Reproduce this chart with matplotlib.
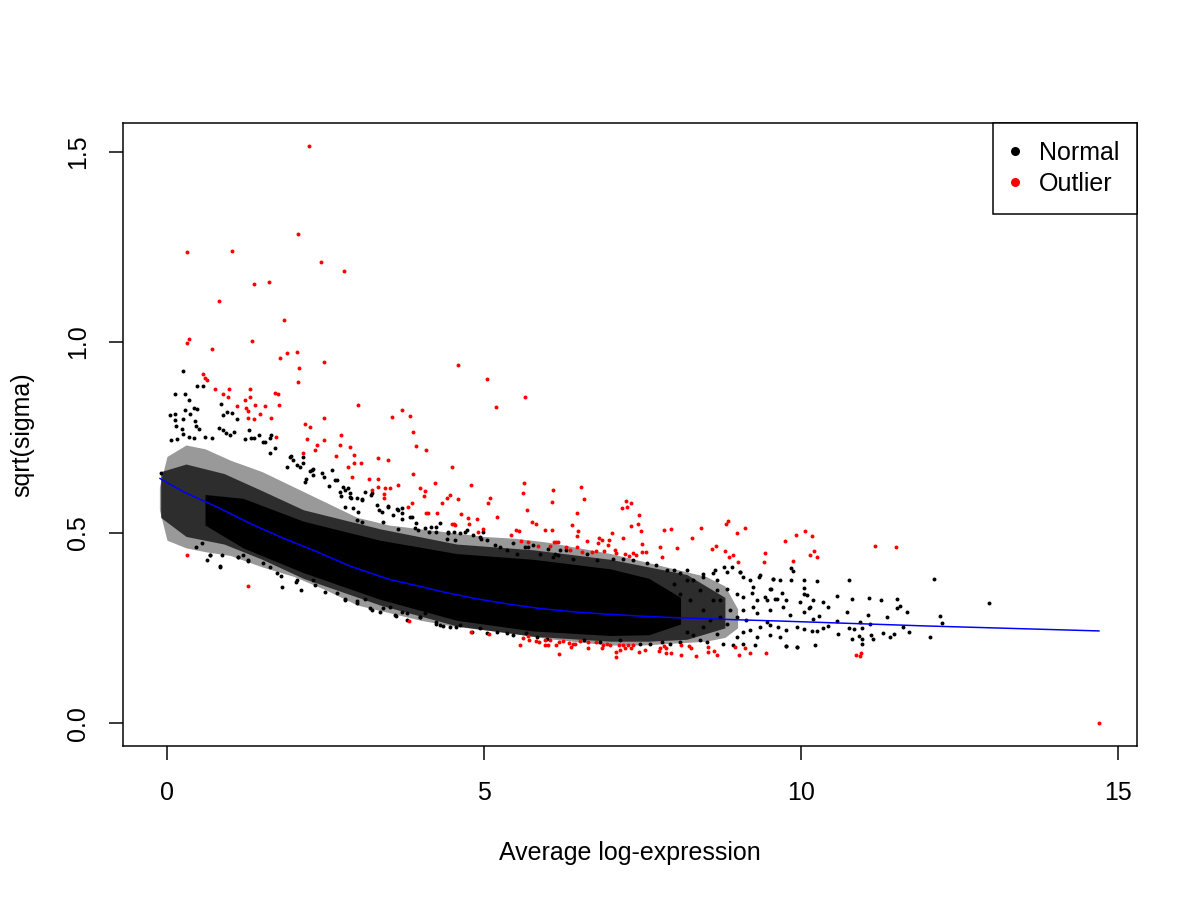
import matplotlib
matplotlib.use('Agg')
import matplotlib.pyplot as plt
from matplotlib.lines import Line2D
import numpy as np

# trend line (blue)
fitX = [-0.11, 0.26, 0.78, 1.31, 1.84, 2.36, 2.89, 3.51, 4.04, 4.31, 4.83, 5.36, 5.88, 6.41, 6.935, 7.46, 7.99, 8.51, 9.04, 9.66, 11.98, 14.70]
fitY = [0.642, 0.607, 0.568, 0.524, 0.485, 0.450, 0.412, 0.377, 0.357, 0.346, 0.328, 0.313, 0.301, 0.292, 0.286, 0.281, 0.277, 0.274, 0.271, 0.268, 0.255, 0.242]

# envelopes of the dense cloud of normal genes (outer, middle, solid core)
haloX = [-0.12, 0.0, 0.3, 0.6, 1.0, 1.5, 2.0, 2.5, 3.0, 3.5, 4.0, 4.5, 5.0, 5.5, 6.0, 6.5, 7.0, 7.5, 8.0, 8.5, 8.8, 9.0]
haloHi = [0.62, 0.70, 0.73, 0.72, 0.69, 0.66, 0.62, 0.58, 0.54, 0.52, 0.51, 0.50, 0.49, 0.485, 0.475, 0.46, 0.445, 0.425, 0.405, 0.385, 0.36, 0.30]
haloLo = [0.56, 0.48, 0.46, 0.45, 0.44, 0.41, 0.385, 0.35, 0.31, 0.29, 0.27, 0.255, 0.245, 0.235, 0.222, 0.213, 0.205, 0.205, 0.21, 0.215, 0.225, 0.25]

midX = [-0.1, 0.3, 0.9, 1.5, 2.15, 3.36, 4.57, 5.77, 6.99, 7.6, 8.2, 8.8]
midHi = [0.66, 0.68, 0.655, 0.61, 0.56, 0.51, 0.47, 0.455, 0.43, 0.41, 0.39, 0.33]
midLo = [0.54, 0.49, 0.47, 0.43, 0.38, 0.31, 0.255, 0.228, 0.215, 0.215, 0.22, 0.25]

coreX = [0.6, 1.2, 2.15, 3.36, 4.57, 5.77, 6.99, 7.6, 8.1]
coreHi = [0.60, 0.59, 0.53, 0.48, 0.445, 0.43, 0.405, 0.38, 0.33]
coreLo = [0.52, 0.46, 0.395, 0.325, 0.27, 0.242, 0.23, 0.232, 0.26]

# scattered normal genes outside the dense cloud
normalX = [0.25, 0.47, 0.13, 0.28, 0.35, 0.57, 0.85, 0.42, 0.48, 0.28, 0.05, 0.13, 0.13, 0.25, 0.36, 0.14, 0.44, 0.46, 0.24, 0.51, 0.25, 0.34, 0.43, 0.06, 0.16, 0.60, 0.71,
           0.89, 0.95, 1.03, 1.11, 0.825, 0.89, 0.935, 1.0, 1.06, 1.30, 1.235, 1.32, 1.37, 1.45, 1.545, 1.62, 1.64,
           1.52, 1.70, 1.62, 1.94, 1.99, 2.15, 1.89, 2.05, 2.28, 2.31, 2.20, 2.47, 2.60, 2.68, 2.78, 2.89, -0.094,
           0.547, 0.678, 0.626, 0.836, 1.125, 1.204, 1.283, 1.52, 1.73, 1.81, 2.05, 2.12, 2.31, 2.49, 2.68,
           0.463, 0.673, 0.873, 0.841, 1.12, 1.28, 1.62, 1.80, 2.03, 2.33, 2.80, 2.99, 3.24, 3.41, 3.61, 3.78, 3.99, 4.25, 4.35, 4.56,
           1.96, 2.09, 2.15, 2.25, 2.31, 2.45, 2.17, 2.56, 2.65, 2.80, 2.75, 2.88, 2.99, 3.08, 3.22, 3.35, 3.49, 3.62, 3.70, 3.87, 3.93, 4.13, 4.25, 4.43,
           2.73, 2.86, 2.91, 3.07, 3.12, 3.23, 2.81, 2.94, 3.02, 3.31, 3.39, 3.49, 3.57, 3.65, 3.70, 3.70, 3.83, 3.91, 3.96, 4.07, 4.17, 4.25, 4.31, 4.44, 4.52, 4.54, 4.73, 4.83, 4.94, 5.04, 5.25, 5.46, 5.65, 5.78, 6.09, 6.17, 6.30, 6.41, 2.99, 3.07, 3.41, 3.65,
           4.41, 4.62, 4.70, 4.96, 4.99, 5.17, 5.36, 5.52, 5.70, 5.88, 6.01, 6.12, 6.20, 6.62, 6.78, 7.04, 7.20, 7.35, 7.57, 7.72, 7.88, 7.99, 8.09, 8.20, 8.30, 8.46, 8.62, 8.67, 8.78, 8.91, 9.04, 9.25, 9.35, 9.51, 9.56, 9.67, 9.59, 9.43,
           8.46, 8.65, 8.83, 9.04, 9.09, 9.19, 9.33, 9.56, 9.85, 9.85, 10.04, 8.67, 8.83, 8.99, 9.09, 9.22, 9.30, 9.46, 9.62, 9.77, 9.98, 10.09, 9.51, 9.72, 9.83, 10.04, 10.12,
           9.09, 9.30, 9.46, 9.64, 9.77, 9.93, 10.04, 9.19, 9.30, 9.51, 9.67, 9.77, 9.93, 9.09, 9.51, 8.67, 8.77, 8.93, 9.27,
           9.88, 10.26, 10.75, 12.10, 9.52, 10.05, 9.70, 10.05, 10.19, 10.34, 10.57, 10.81, 11.08, 11.26, 11.52, 11.56, 11.52, 11.68, 12.97, 10.14, 10.43, 10.73, 11.06, 11.36, 12.20, 12.22,
           10.28, 10.19, 10.35, 10.43, 10.57, 10.93, 11.09, 11.61, 11.71, 12.03, 10.17, 10.25, 10.59, 10.76, 10.84, 10.97, 11.11, 11.30, 11.40, 11.47,
           10.92, 10.96, 11.13, 10.80, 10.97, 9.77, 9.93, 10.22,
           2.81, 2.99, 3.12, 3.20, 3.36, 3.52, 3.60, 3.70, 3.78, 3.99, 4.07, 4.25, 4.31, 4.46, 4.62, 4.81, 4.94, 5.04, 5.20, 5.36, 5.46, 5.67, 5.83, 5.99,
           6.57, 6.83, 7.14, 7.46, 7.62, 7.80, 7.93, 8.09, 8.30, 8.41, 8.51, 8.20, 8.46, 8.56, 8.62, 8.46, 8.25, 8.09, 8.41, 8.20, 7.99,
           8.72, 8.88, 8.99, 9.14, 9.25, 8.83, 9.09, 9.35, 8.99, 8.72]
normalY = [0.923, 0.886, 0.864, 0.864, 0.847, 0.884, 0.838, 0.826, 0.824, 0.821, 0.809, 0.811, 0.796, 0.797, 0.810, 0.781, 0.792, 0.780, 0.773, 0.772, 0.759, 0.752, 0.749, 0.744, 0.745, 0.751, 0.749,
           0.808, 0.817, 0.815, 0.799, 0.775, 0.769, 0.762, 0.757, 0.763, 0.770, 0.745, 0.748, 0.749, 0.757, 0.738, 0.749, 0.756,
           0.739, 0.721, 0.708, 0.699, 0.690, 0.699, 0.673, 0.677, 0.664, 0.651, 0.642, 0.647, 0.664, 0.638, 0.621, 0.603, 0.656,
           0.474, 0.441, 0.428, 0.411, 0.437, 0.441, 0.428, 0.419, 0.393, 0.358, 0.376, 0.349, 0.376, 0.345, 0.341,
           0.461, 0.441, 0.441, 0.412, 0.437, 0.425, 0.411, 0.386, 0.371, 0.362, 0.325, 0.321, 0.297, 0.301, 0.281, 0.288, 0.278, 0.260, 0.255, 0.253,
           0.702, 0.673, 0.682, 0.662, 0.666, 0.657, 0.634, 0.622, 0.638, 0.612, 0.596, 0.593, 0.590, 0.589, 0.599, 0.559, 0.570, 0.561, 0.551, 0.540, 0.524, 0.501, 0.516, 0.502,
           0.607, 0.616, 0.590, 0.586, 0.607, 0.603, 0.568, 0.564, 0.555, 0.572, 0.555, 0.568, 0.546, 0.559, 0.564, 0.537, 0.542, 0.511, 0.507, 0.511, 0.514, 0.502, 0.524, 0.498, 0.502, 0.481, 0.507, 0.494, 0.489, 0.481, 0.463, 0.472, 0.463, 0.467, 0.437, 0.441, 0.454, 0.432, 0.533, 0.529, 0.529, 0.509,
           0.484, 0.498, 0.502, 0.484, 0.502, 0.467, 0.454, 0.445, 0.463, 0.445, 0.458, 0.445, 0.454, 0.445, 0.428, 0.432, 0.432, 0.428, 0.419, 0.414, 0.401, 0.401, 0.393, 0.401, 0.375, 0.384, 0.393, 0.375, 0.410, 0.410, 0.397, 0.358, 0.388, 0.353, 0.379, 0.375, 0.327, 0.331,
           0.391, 0.403, 0.397, 0.397, 0.384, 0.375, 0.384, 0.377, 0.375, 0.406, 0.375, 0.349, 0.353, 0.340, 0.331, 0.342, 0.323, 0.323, 0.327, 0.323, 0.318, 0.336, 0.296, 0.305, 0.283, 0.292, 0.301,
           0.296, 0.288, 0.266, 0.253, 0.244, 0.253, 0.248, 0.244, 0.226, 0.231, 0.226, 0.202, 0.200, 0.209, 0.257, 0.235, 0.209, 0.204, 0.204,
           0.399, 0.373, 0.375, 0.377, 0.353, 0.354, 0.341, 0.338, 0.323, 0.319, 0.334, 0.327, 0.329, 0.322, 0.327, 0.308, 0.301, 0.292, 0.316, 0.304, 0.306, 0.291, 0.285, 0.278, 0.282, 0.264,
           0.281, 0.272, 0.249, 0.255, 0.269, 0.266, 0.260, 0.253, 0.238, 0.226, 0.243, 0.243, 0.234, 0.250, 0.247, 0.250, 0.230, 0.236, 0.227, 0.234,
           0.229, 0.220, 0.221, 0.220, 0.209, 0.202, 0.199, 0.205,
           0.323, 0.314, 0.327, 0.301, 0.292, 0.306, 0.284, 0.292, 0.271, 0.279, 0.288, 0.266, 0.257, 0.253, 0.257, 0.240, 0.249, 0.236, 0.240, 0.236, 0.231, 0.236, 0.227, 0.220,
           0.218, 0.213, 0.218, 0.209, 0.209, 0.213, 0.209, 0.213, 0.231, 0.218, 0.213, 0.240, 0.253, 0.270, 0.322, 0.296, 0.322, 0.340, 0.349, 0.375, 0.366,
           0.322, 0.296, 0.279, 0.270, 0.305, 0.261, 0.239, 0.253, 0.226, 0.279]

# outlier genes (red)
outlierX = [2.245, 2.07, 0.315, 1.03, 2.43, 2.79, 1.38, 1.61, 0.815, 1.85, 0.35, 0.31, 0.715, 1.345, 1.79, 1.90, 2.045, 2.48, 4.585, 2.08, 2.07, 0.573, 0.604, 0.635, 0.763, 0.983, 1.315, 0.89, 0.967, 1.235, 1.315, 1.71, 1.75, 1.39, 1.10, 1.25, 1.28, 1.55, 1.76, 1.47, 1.27, 1.38, 1.645, 2.48, 3.01, 3.55, 3.71, 3.84, 3.885, 2.17, 2.26, 2.75, 1.72, 2.21, 2.48,
            2.34, 2.37, 2.15, 2.73, 2.89, 4.09, 3.93, 2.955, 2.665, 3.33, 3.49, 2.945, 3.065, 2.86, 4.50, 3.875, 2.92, 3.19, 3.33, 4.23, 3.64, 3.24, 3.33, 3.44, 3.51, 3.985, 4.075, 3.42, 3.42, 4.06, 4.47, 4.42, 4.585, 4.33, 3.87, 3.80, 4.09, 4.12, 4.26, 4.64, 4.49, 4.55, 0.32, 1.28, 3.81,
            5.05, 5.64, 5.19, 4.80, 5.625, 5.61, 6.09, 6.07, 6.53, 6.58, 5.09, 5.07, 5.68, 5.20, 4.74, 4.885, 4.52, 4.77, 4.99, 4.905, 5.76, 5.825, 6.46, 7.18, 7.26, 7.32, 7.245, 7.45, 7.43, 7.32, 6.39, 5.96, 6.07, 5.51, 5.55, 5.42, 6.49, 6.47, 7.02, 7.48, 7.49, 7.84, 7.95, 8.42, 8.82, 8.85, 9.12, 8.995, 8.285, 8.05, 7.78, 7.81, 8.60, 8.66, 8.80, 8.87, 8.93, 9.01, 9.44, 9.42,
            5.58, 5.69, 5.85, 6.04, 6.11, 6.14, 6.16, 6.30, 6.36, 6.47, 6.55, 6.62, 6.70, 6.76, 6.81, 6.865, 6.90, 6.80, 6.97, 6.955, 7.07, 7.09, 7.23, 7.28, 7.35, 7.40, 7.50, 7.56, 7.19,
            4.795, 5.085, 5.57, 5.61, 5.69, 5.715, 5.825, 5.87, 5.96, 6.045, 5.97, 6.015, 6.135, 6.18, 6.25, 6.34, 6.40, 6.435, 6.38, 6.18, 6.52, 6.635, 6.64, 6.77, 6.855, 6.88, 6.935, 6.99, 7.08, 7.09, 7.13, 7.15, 7.19, 7.22, 7.27, 7.32, 7.355, 7.44, 7.54, 7.76, 7.78, 7.84, 7.87, 7.87, 7.95, 8.10, 8.10, 8.23, 8.27, 8.34, 8.53, 8.54, 8.63, 8.68, 8.96, 9.02, 9.11, 9.20, 9.45,
            10.07, 9.92, 10.18, 9.74, 10.21, 10.14, 10.26, 9.88, 11.16, 11.50, 10.87, 10.95, 10.93, 14.70]
outlierY = [1.514, 1.283, 1.236, 1.239, 1.209, 1.186, 1.152, 1.157, 1.107, 1.059, 1.007, 0.997, 0.982, 1.002, 0.959, 0.972, 0.975, 0.948, 0.939, 0.932, 0.894, 0.915, 0.907, 0.900, 0.877, 0.876, 0.878, 0.865, 0.855, 0.847, 0.855, 0.867, 0.863, 0.836, 0.831, 0.828, 0.818, 0.831, 0.835, 0.810, 0.802, 0.798, 0.802, 0.802, 0.835, 0.803, 0.823, 0.807, 0.764, 0.786, 0.776, 0.757, 0.750, 0.745, 0.744,
            0.717, 0.731, 0.708, 0.731, 0.726, 0.716, 0.728, 0.703, 0.700, 0.696, 0.690, 0.684, 0.682, 0.671, 0.673, 0.653, 0.646, 0.640, 0.642, 0.630, 0.624, 0.612, 0.619, 0.616, 0.616, 0.617, 0.608, 0.601, 0.592, 0.596, 0.600, 0.590, 0.587, 0.577, 0.577, 0.568, 0.552, 0.551, 0.552, 0.549, 0.523, 0.520, 0.442, 0.361, 0.267,
            0.902, 0.855, 0.829, 0.624, 0.629, 0.603, 0.611, 0.580, 0.621, 0.587, 0.591, 0.578, 0.560, 0.541, 0.539, 0.535, 0.522, 0.523, 0.509, 0.502, 0.528, 0.523, 0.551, 0.565, 0.568, 0.578, 0.584, 0.545, 0.523, 0.517, 0.519, 0.508, 0.508, 0.508, 0.503, 0.493, 0.504, 0.492, 0.498, 0.504, 0.471, 0.508, 0.509, 0.513, 0.522, 0.531, 0.513, 0.500, 0.485, 0.460, 0.462, 0.435, 0.458, 0.466, 0.453, 0.437, 0.441, 0.423, 0.446, 0.422,
            0.479, 0.476, 0.465, 0.466, 0.475, 0.475, 0.475, 0.462, 0.455, 0.462, 0.450, 0.477, 0.448, 0.452, 0.486, 0.481, 0.453, 0.473, 0.481, 0.467, 0.455, 0.446, 0.443, 0.439, 0.447, 0.440, 0.448, 0.450, 0.486,
            0.239, 0.234, 0.206, 0.223, 0.228, 0.219, 0.216, 0.212, 0.219, 0.218, 0.205, 0.206, 0.205, 0.213, 0.215, 0.211, 0.208, 0.209, 0.199, 0.181, 0.215, 0.212, 0.198, 0.212, 0.196, 0.205, 0.207, 0.205, 0.187, 0.174, 0.205, 0.192, 0.206, 0.198, 0.206, 0.197, 0.206, 0.187, 0.193, 0.190, 0.196, 0.203, 0.198, 0.183, 0.183, 0.205, 0.178, 0.202, 0.198, 0.176, 0.201, 0.186, 0.189, 0.180, 0.199, 0.180, 0.198, 0.183, 0.185,
            0.503, 0.495, 0.492, 0.478, 0.453, 0.442, 0.437, 0.426, 0.466, 0.463, 0.180, 0.185, 0.175, 0.0]

legendLabels = ['Normal', 'Outlier']
xTicks = [0, 5, 10, 15]
yTicks = [0.0, 0.5, 1.0, 1.5]

plt.rcParams['font.family'] = ['Liberation Sans', 'DejaVu Sans']
fontSize = 18
lineWidth = 1.08

fig = plt.figure(figsize=(12, 9), dpi=100)
ax = fig.add_axes([123/1200, 1 - 746/900, 1014/1200, 623/900])

ax.fill_between(haloX, haloLo, haloHi, color='black', alpha=0.4, linewidth=0)
ax.fill_between(midX, midLo, midHi, color='black', alpha=0.7, linewidth=0)
ax.fill_between(coreX, coreLo, coreHi, color='black', alpha=1.0, linewidth=0)

ax.scatter(normalX, normalY, s=8, c='black', marker='o', linewidths=0)
ax.scatter(outlierX, outlierY, s=8, c='red', marker='o', linewidths=0)
ax.plot(fitX, fitY, color='blue', linewidth=lineWidth)

ax.set_xlim(-0.694, 15.30)
ax.set_ylim(-0.060, 1.575)
ax.set_xticks(xTicks)
ax.set_xticklabels([str(t) for t in xTicks])
ax.set_yticks(yTicks)
ax.set_yticklabels([f'{t:.1f}' for t in yTicks])

for spine in ax.spines.values():
	spine.set_linewidth(lineWidth)
	spine.set_color('black')

ax.tick_params(axis='both', length=10.4, width=lineWidth, labelsize=fontSize, color='black')
ax.tick_params(axis='x', pad=15)
ax.tick_params(axis='y', pad=13, labelrotation=90)
for label in ax.get_yticklabels():
	label.set_verticalalignment('center')

ax.set_xlabel('Average log-expression', fontsize=fontSize)
ax.xaxis.label.set_verticalalignment('center')
ax.xaxis.set_label_coords(0.5, (746 - 853) / 623)
ax.set_ylabel('sqrt(sigma)', fontsize=fontSize)
ax.yaxis.label.set_verticalalignment('center')
ax.yaxis.set_label_coords((22 - 123) / 1014, 0.5)

handles = [
	Line2D([], [], linestyle='none', marker='o', markersize=6.5, markerfacecolor='black', markeredgewidth=0),
	Line2D([], [], linestyle='none', marker='o', markersize=6.5, markerfacecolor='red', markeredgewidth=0)
]
legend = ax.legend(handles, legendLabels, loc='upper right', borderaxespad=0, fancybox=False,
	edgecolor='black', framealpha=1, fontsize=fontSize, handlelength=0.4, handletextpad=0.75,
	borderpad=0.7, labelspacing=0.3)
legend.get_frame().set_linewidth(lineWidth)

fig.savefig('out.png', dpi=100)
